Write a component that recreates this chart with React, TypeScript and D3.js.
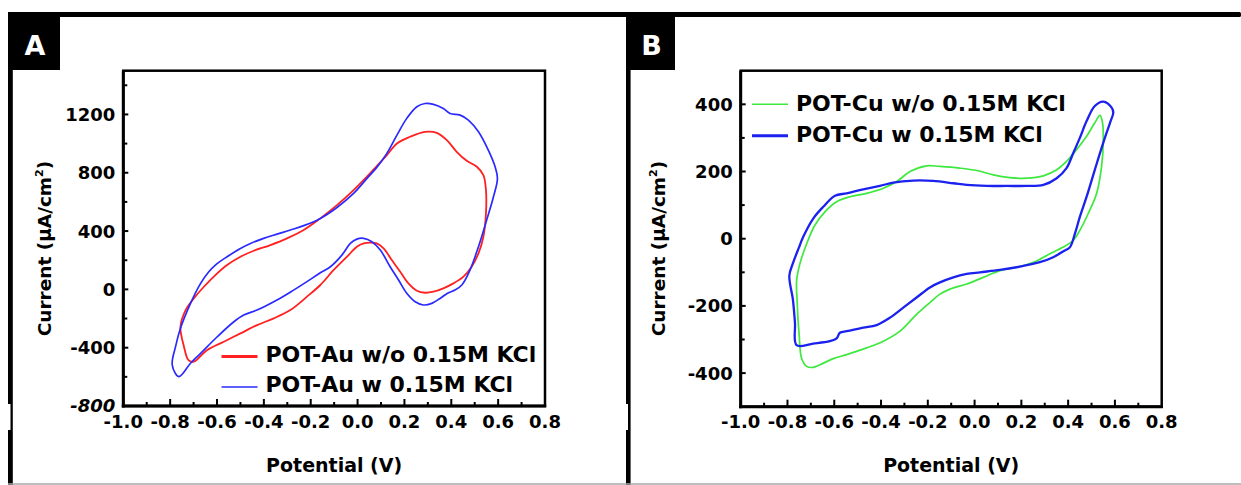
import React from 'react';
import * as d3 from 'd3';

// potential axis (V)
const potentialTicks = [-1.0, -0.8, -0.6, -0.4, -0.2, 0.0, 0.2, 0.4, 0.6, 0.8];
const potentialMinor = [-0.9, -0.7, -0.5, -0.3, -0.1, 0.1, 0.3, 0.5, 0.7];

// current axes (uA/cm2)
const currentTicksA = [-800, -400, 0, 400, 800, 1200];
const currentMinorA = [-600, -200, 200, 600, 1000, 1400];
const currentTicksB = [-400, -200, 0, 200, 400];
const currentMinorB = [-300, -100, 100, 300];

const legendA = ['POT-Au w/o 0.15M KCl', 'POT-Au w 0.15M KCl'];
const legendB = ['POT-Cu w/o 0.15M KCl', 'POT-Cu w 0.15M KCl'];

// [potential V, current uA/cm2]
const auWithout: [number, number][] = [
  [-0.699, -496], [-0.722, -485], [-0.741, -393], [-0.756, -256], [-0.734, -142], [-0.699, -62],
  [-0.656, 18], [-0.607, 98], [-0.557, 167], [-0.5, 224], [-0.443, 265], [-0.372, 304],
  [-0.301, 350], [-0.23, 407], [-0.159, 487], [-0.088, 578], [-0.017, 681], [0.04, 773],
  [0.082, 846], [0.125, 921], [0.168, 1001], [0.224, 1047], [0.288, 1081], [0.338, 1074],
  [0.381, 1024], [0.423, 944], [0.466, 882], [0.509, 841], [0.537, 784], [0.548, 681],
  [0.548, 521], [0.537, 361], [0.516, 247], [0.487, 155], [0.452, 87], [0.409, 41],
  [0.366, 7], [0.324, -16], [0.288, -23], [0.253, -9], [0.217, 41], [0.182, 121],
  [0.146, 201], [0.111, 281], [0.082, 315], [0.054, 320], [0.026, 315], [-0.003, 293],
  [-0.045, 224], [-0.102, 133], [-0.159, 30], [-0.216, -50], [-0.287, -142], [-0.358, -199],
  [-0.429, -245], [-0.5, -302], [-0.571, -359], [-0.642, -416],
];

const auWith: [number, number][] = [
  [-0.763, -599], [-0.791, -519], [-0.777, -393], [-0.756, -267], [-0.713, -96], [-0.67, 41],
  [-0.635, 121], [-0.607, 167], [-0.557, 224], [-0.5, 281], [-0.457, 315], [-0.401, 350],
  [-0.344, 379], [-0.287, 407], [-0.23, 437], [-0.159, 487], [-0.088, 562], [-0.017, 658],
  [0.04, 761], [0.082, 837], [0.125, 933], [0.168, 1058], [0.21, 1173], [0.253, 1253],
  [0.288, 1275], [0.324, 1269], [0.366, 1241], [0.395, 1207], [0.438, 1195], [0.473, 1161],
  [0.516, 1081], [0.558, 955], [0.587, 841], [0.597, 761], [0.58, 635], [0.551, 475],
  [0.516, 293], [0.48, 133], [0.445, 30], [0.416, -5], [0.388, -23], [0.352, -62],
  [0.317, -96], [0.281, -107], [0.246, -85], [0.21, -27], [0.175, 64], [0.139, 155],
  [0.097, 270], [0.061, 327], [0.026, 350], [-0.003, 345], [-0.031, 315], [-0.067, 235],
  [-0.116, 155], [-0.159, 114], [-0.216, 53], [-0.273, -5], [-0.344, -73], [-0.429, -142],
  [-0.486, -176], [-0.528, -222], [-0.599, -325], [-0.67, -439], [-0.713, -507],
];

const cuWithout: [number, number][] = [
  [-0.761, -125], [-0.747, -75], [-0.718, -15], [-0.683, 40], [-0.64, 80], [-0.59, 110],
  [-0.533, 125], [-0.462, 135], [-0.39, 150], [-0.333, 170], [-0.276, 200], [-0.205, 217],
  [-0.148, 215], [-0.063, 210], [0.009, 203], [0.08, 190], [0.151, 182], [0.222, 180],
  [0.294, 187], [0.351, 205], [0.393, 230], [0.436, 265], [0.479, 305], [0.514, 345],
  [0.536, 367], [0.547, 345], [0.55, 285], [0.543, 215], [0.522, 135], [0.486, 75],
  [0.45, 25], [0.422, -5], [0.379, -25], [0.322, -45], [0.251, -70], [0.18, -85],
  [0.108, -95], [0.037, -115], [-0.034, -135], [-0.105, -150], [-0.148, -165], [-0.191, -190],
  [-0.248, -225], [-0.319, -275], [-0.39, -305], [-0.462, -325], [-0.547, -345], [-0.604, -357],
  [-0.661, -375], [-0.69, -383], [-0.718, -380], [-0.74, -355], [-0.75, -285], [-0.755, -240],
  [-0.758, -195],
];

const cuWith: [number, number][] = [
  [-0.792, -110], [-0.775, -70], [-0.752, -28], [-0.733, 5], [-0.69, 60], [-0.647, 95],
  [-0.597, 128], [-0.547, 135], [-0.476, 147], [-0.405, 157], [-0.348, 167], [-0.262, 173],
  [-0.177, 172], [-0.091, 165], [-0.034, 160], [0.051, 157], [0.137, 157], [0.222, 157],
  [0.294, 160], [0.351, 180], [0.393, 210], [0.422, 255], [0.45, 300], [0.479, 350],
  [0.514, 395], [0.55, 408], [0.586, 390], [0.593, 375], [0.579, 345], [0.55, 285],
  [0.514, 205], [0.479, 125], [0.45, 65], [0.429, 15], [0.408, -25], [0.386, -35],
  [0.336, -55], [0.279, -70], [0.194, -83], [0.108, -93], [0.023, -100], [-0.034, -105],
  [-0.091, -115], [-0.148, -130], [-0.191, -145], [-0.248, -175], [-0.305, -205], [-0.362, -235],
  [-0.419, -257], [-0.476, -265], [-0.547, -275], [-0.576, -280], [-0.59, -297], [-0.619, -305],
  [-0.69, -312], [-0.761, -317], [-0.768, -250], [-0.777, -180],
];

const FONT = "'DejaVu Sans', 'Liberation Sans', sans-serif";

type Series = { data: [number, number][]; color: string; width: number; legendWidth: number };

type PanelProps = {
  left: number; right: number; top: number; bottom: number;
  yDomain: [number, number];
  yTicks: number[]; yMinor: number[];
  series: Series[];
  legend: string[];
  legendX: number; legendRows: number[]; legendDy: number;
  yTitleX: number;
  italicBottom?: boolean;
};

const Panel = (p: PanelProps) => {
  const x = d3.scaleLinear([-1, 0.8], [p.left, p.right]);
  const y = d3.scaleLinear(p.yDomain, [p.bottom, p.top]);
  const line = d3.line<[number, number]>()
    .x(d => x(d[0]))
    .y(d => y(d[1]))
    .curve(d3.curveCatmullRomClosed.alpha(0.5));

  return (
    <g>
      {p.series.map((s, i) => (
        <path key={i} d={line(s.data) || ''} fill="none" stroke={s.color}
          strokeWidth={s.width} strokeLinejoin="round" />
      ))}

      {/* frame */}
      <rect x={p.left} y={p.top} width={p.right - p.left} height={p.bottom - p.top}
        fill="none" stroke="#000" strokeWidth={2.5} />
      <line x1={p.left} x2={p.left} y1={p.top} y2={p.bottom + 1.5} stroke="#000" strokeWidth={3} />
      <line x1={p.left - 1.5} x2={p.right + 1.2} y1={p.bottom} y2={p.bottom} stroke="#000" strokeWidth={3} />

      {/* x ticks, inside */}
      {potentialTicks.slice(1, -1).map(v => (
        <line key={'xm' + v} x1={x(v)} x2={x(v)} y1={p.bottom} y2={p.bottom - 7} stroke="#000" strokeWidth={2} />
      ))}
      {potentialMinor.map(v => (
        <line key={'xn' + v} x1={x(v)} x2={x(v)} y1={p.bottom} y2={p.bottom - 4} stroke="#000" strokeWidth={2} />
      ))}
      {potentialTicks.map(v => (
        <text key={'xl' + v} x={x(v)} y={428} textAnchor="middle" fontFamily={FONT}
          fontWeight="bold" fontSize={18}>{v.toFixed(1)}</text>
      ))}

      {/* y ticks, inside */}
      {p.yTicks.map(v => (
        <line key={'ym' + v} x1={p.left} x2={p.left + 5} y1={y(v)} y2={y(v)} stroke="#000" strokeWidth={2} />
      ))}
      {p.yMinor.map(v => (
        <line key={'yn' + v} x1={p.left} x2={p.left + 4} y1={y(v)} y2={y(v)} stroke="#000" strokeWidth={2} />
      ))}
      {p.yTicks.map(v => (
        <text key={'yl' + v} x={p.left - 8} y={y(v)} dy="0.36em" textAnchor="end" fontFamily={FONT}
          fontWeight="bold" fontSize={18}
          fontStyle={p.italicBottom && v === p.yTicks[0] ? 'italic' : 'normal'}>{String(v)}</text>
      ))}

      {/* axis titles */}
      <text x={(p.left + p.right) / 2} y={472} textAnchor="middle" fontFamily={FONT}
        fontWeight="bold" fontSize={19}>Potential (V)</text>
      <text transform={`translate(${p.yTitleX},248.5) rotate(-90)`} textAnchor="middle"
        fontFamily={FONT} fontWeight="bold" fontSize={18.5}>
        Current (μA/cm<tspan dy={-8} fontSize={11}>2</tspan><tspan dy={8}>)</tspan>
      </text>

      {/* legend */}
      {p.legend.map((label, i) => (
        <g key={'lg' + i}>
          <line x1={p.legendX} x2={p.legendX + 36} y1={p.legendRows[i]} y2={p.legendRows[i]}
            stroke={p.series[i].color} strokeWidth={p.series[i].legendWidth} />
          <text x={p.legendX + 44} y={p.legendRows[i] + p.legendDy} fontFamily={FONT}
            fontWeight="bold" fontSize={22}>{label}</text>
        </g>
      ))}
    </g>
  );
};

const PanelTag = ({ x, w, label }: { x: number; w: number; label: string }) => (
  <g>
    <rect x={x} y={12} width={w} height={58} fill="#000" />
    <text x={x + w / 2 + 1} y={55} textAnchor="middle" fill="#fff" fontFamily={FONT}
      fontWeight="bold" fontSize={27}>{label}</text>
  </g>
);

export default function App() {
  return (
    <svg width={1241} height={485} style={{ position: 'absolute', left: 0, top: 0, background: '#fff' }}>
      <rect x={0} y={0} width={1241} height={485} fill="#fff" />

      {/* outer figure frame */}
      <rect x={8} y={12} width={1233} height={5} rx={1.5} fill="#000" />
      <rect x={8} y={12} width={4.8} height={473} fill="#000" />
      <rect x={626} y={12} width={4.6} height={473} fill="#000" />
      <rect x={8} y={404} width={2.5} height={26} fill="#fff" />
      <rect x={626} y={404} width={2} height={26} fill="#fff" />
      <line x1={8} x2={1241} y1={484} y2={484} stroke="#a8a8a8" strokeWidth={1.5} />

      <PanelTag x={8} w={52} label="A" />
      <PanelTag x={626} w={49} label="B" />

      <Panel
        left={123.3} right={545} top={70.7} bottom={406}
        yDomain={[-800, 1500]} yTicks={currentTicksA} yMinor={currentMinorA}
        series={[
          { data: auWithout, color: '#ff2020', width: 1.8, legendWidth: 3 },
          { data: auWith, color: '#2a2aff', width: 1.7, legendWidth: 1.5 },
        ]}
        legend={legendA} legendX={221.5} legendRows={[356.5, 387]} legendDy={5.3}
        yTitleX={50.5} italicBottom
      />
      <Panel
        left={740.7} right={1161.7} top={70.7} bottom={406.7}
        yDomain={[-500, 500]} yTicks={currentTicksB} yMinor={currentMinorB}
        series={[
          { data: cuWithout, color: '#3ee83e', width: 1.7, legendWidth: 1.6 },
          { data: cuWith, color: '#1c22ee', width: 2.3, legendWidth: 3 },
        ]}
        legend={legendB} legendX={752} legendRows={[104.3, 135.7]} legendDy={6.5}
        yTitleX={664.5}
      />
    </svg>
  );
}
